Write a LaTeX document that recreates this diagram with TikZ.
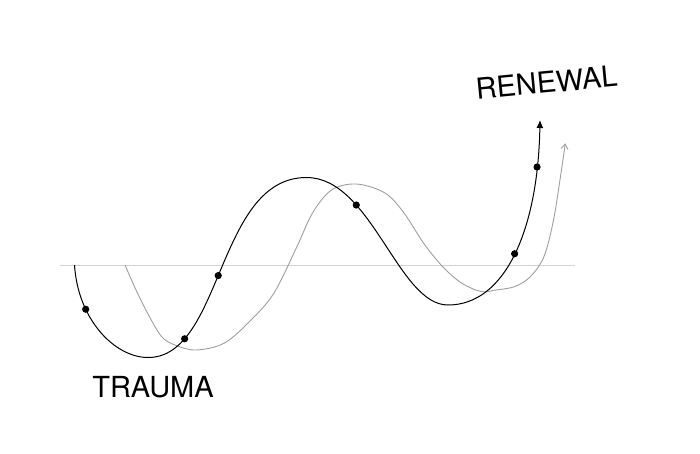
\documentclass[tikz,border=0pt]{standalone}
\usepackage{fontspec}
\setmainfont{TeX Gyre Heros}
\usetikzlibrary{arrows.meta}
\definecolor{echogray}{HTML}{9E9E9E}
\definecolor{axisgray}{HTML}{D2D2D2}

\begin{document}
\begin{tikzpicture}[x=1pt, y=-1pt,
    axis/.style={draw=axisgray, line width=1pt},
    path/.style={draw=black, line width=1pt, -{Latex[length=8pt,width=7pt]}},
    echo/.style={draw=echogray, line width=0.9pt, -{Straight Barb[length=5pt,width=7pt]}},
    dot/.style={fill=black},
    word/.style={inner sep=0pt, font=\fontsize{29}{34}\selectfont}
]
    \useasboundingbox (0,0) rectangle (700,453);

    % baseline
    \coordinate (l0) at (60,265);
    \coordinate (l1) at (575,265);
    \draw[axis] (l0) -- (l1);

    % turning points of the black curve
    \coordinate (s)  at (74.5,265);
    \coordinate (m1) at (148,357.5);
    \coordinate (x1) at (306.5,177.5);
    \coordinate (m2) at (448,305);
    \coordinate (t)  at (540,120);

    % gray echo curve
    \draw[echo] plot[smooth, tension=0.55] coordinates {
        (125,265) (136.5,291) (148,314) (161.5,336.5) (175,345) (196,350)
        (224.5,343) (251,320) (274,293) (297,246.5) (312.5,213) (331.5,190)
        (356.5,184) (385,193) (404,213) (423.5,243) (442.5,266.5) (461.5,283)
        (481,291.5) (496,290) (515,286.5) (530.5,276.5) (544,256.5) (553.5,220)
        (561,173) (565.3,143.3)};

    % black curve
    \draw[path] (s)
        .. controls (78,320) and (115,357.5) .. (m1) coordinate[pos=0.3] (p1)
        .. controls (223,357.5) and (216.5,177.5) .. (x1)
            coordinate[pos=0.2] (p2) coordinate[pos=0.47] (p3)
        .. controls (371.5,177.5) and (398,305) .. (m2) coordinate[pos=0.3] (p4)
        .. controls (505,305) and (538,230) .. (t)
            coordinate[pos=0.5] (p5) coordinate[pos=0.85] (p6);

    \foreach \p in {p1,p2,p3,p4,p5,p6}
        \fill[dot] (\p) circle (3.6pt);

    \node[word] (trauma) at (153,387.5) {TRAUMA};
    \node[word, rotate=5.5] (renewal) at (546.5,82.5) {RENEWAL};
\end{tikzpicture}
\end{document}
